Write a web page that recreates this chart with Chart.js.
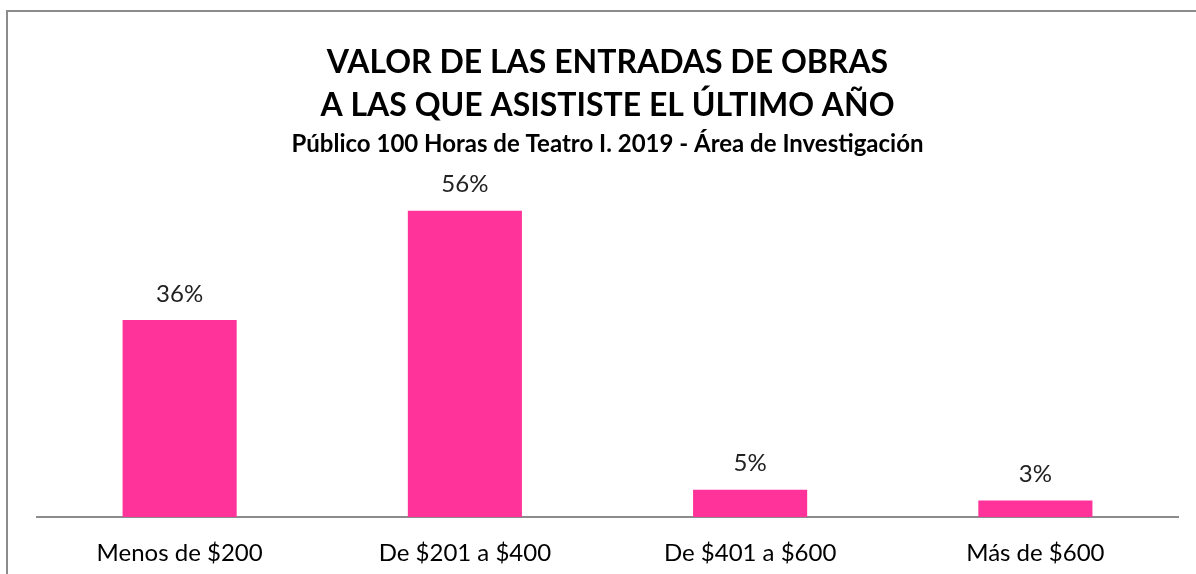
<!DOCTYPE html>
<html>
<head>
<meta charset="utf-8">
<script src="https://cdn.jsdelivr.net/npm/chart.js@4"></script>
<style>
  html, body { margin: 0; padding: 0; background: #fff; }
  #wrap { position: relative; width: 1196px; height: 574px; overflow: hidden; }
  #frame { position: absolute; left: 6px; top: 10px; width: 1300px; height: 700px;
           border-top: 2px solid #8c8c8c; border-left: 2px solid #8c8c8c; }
  canvas { position: absolute; left: 0; top: 0; }
</style>
</head>
<body>
<div id="wrap">
  <div id="frame"></div>
  <canvas id="chart" width="1196" height="574"></canvas>
</div>
<script>
const categorias = ['Menos de $200', 'De $201 a $400', 'De $401 a $600', 'Más de $600'];
const porcentajes = [36, 56, 5, 3];
const titulo = ['VALOR DE LAS ENTRADAS DE OBRAS', 'A LAS QUE ASISTISTE EL ÚLTIMO AÑO'];
const subtitulo = 'Público 100 Horas de Teatro I. 2019 - Área de Investigación';

const fuente = 'Lato, "Open Sans", sans-serif';

// etiquetas de valor encima de cada barra
const etiquetas = {
  id: 'etiquetas',
  afterDatasetsDraw(chart) {
    const ctx = chart.ctx;
    const meta = chart.getDatasetMeta(0);
    ctx.save();
    ctx.font = '24px ' + fuente;
    ctx.fillStyle = '#222';
    ctx.textAlign = 'center';
    ctx.textBaseline = 'middle';
    meta.data.forEach((bar, i) => {
      ctx.fillText(porcentajes[i] + '%', bar.x, bar.y - 26);
    });
    ctx.restore();
  }
};

new Chart(document.getElementById('chart'), {
  type: 'bar',
  data: {
    labels: categorias,
    datasets: [{
      data: porcentajes,
      backgroundColor: '#FF3399',
      barPercentage: 1,
      categoryPercentage: 0.4
    }]
  },
  options: {
    responsive: false,
    animation: false,
    layout: { padding: { left: 37, right: 18, bottom: -7 } },
    plugins: {
      legend: { display: false },
      tooltip: { enabled: false },
      title: {
        display: true,
        text: titulo,
        color: '#000',
        font: { family: fuente, size: 32, weight: 'bold', lineHeight: 1.344 },
        padding: { top: 41, bottom: 3 }
      },
      subtitle: {
        display: true,
        text: subtitulo,
        color: '#000',
        font: { family: fuente, size: 24, weight: 'bold', lineHeight: 1.2 },
        padding: { top: 0, bottom: 30 }
      }
    },
    scales: {
      x: {
        grid: { display: false },
        border: { display: true, color: '#8c8c8c', width: 2 },
        ticks: { color: '#000', font: { family: fuente, size: 24 }, padding: 13.6 }
      },
      y: {
        display: false,
        min: 0,
        max: 60
      }
    }
  },
  plugins: [etiquetas]
});
</script>
</body>
</html>
